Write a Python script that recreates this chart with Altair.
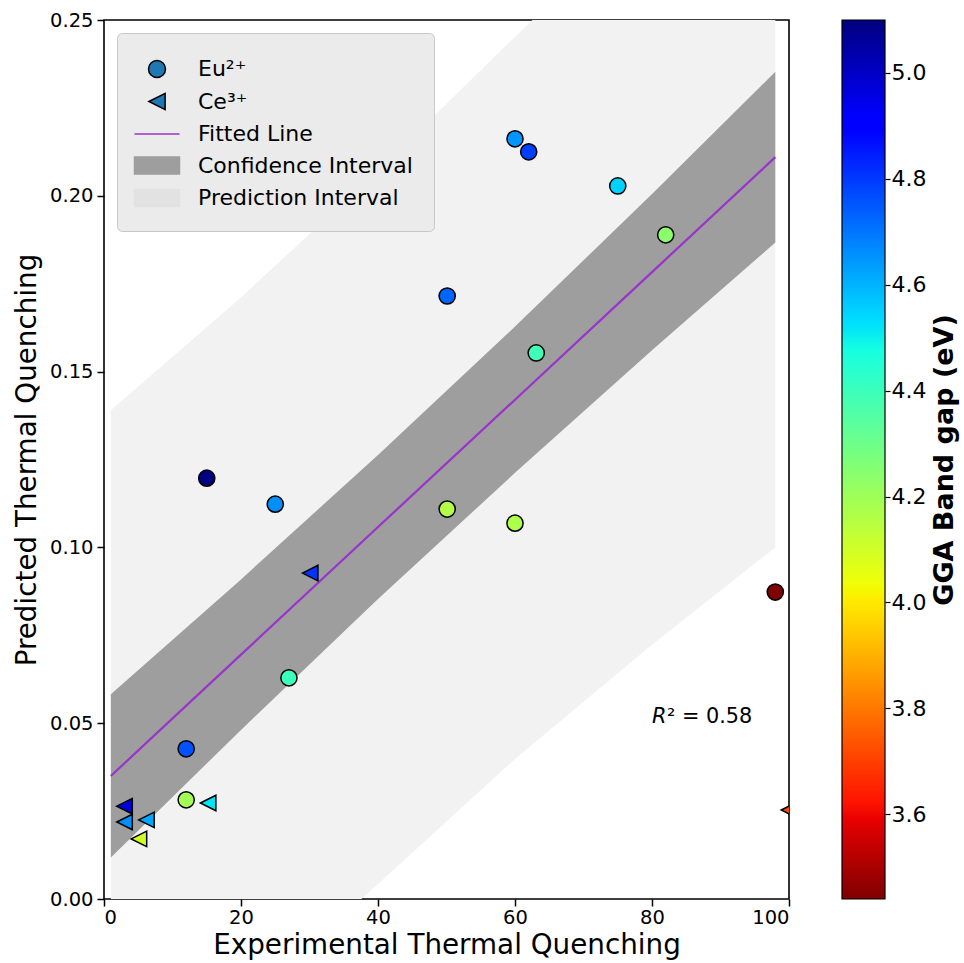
import altair as alt
import pandas as pd

# Eu2+ phosphors: experimental vs. predicted thermal quenching, GGA band gap (eV)
eu_exp = [60.0, 62.0, 75.0, 82.0, 50.1, 63.1, 15.0, 25.0, 50.1, 60.0, 27.0, 12.0, 12.0, 98.0]
eu_pred = [0.2162, 0.2125, 0.2028, 0.1889, 0.1715, 0.1553, 0.1197, 0.1123,
           0.1109, 0.1069, 0.0629, 0.0427, 0.0282, 0.0873]
eu_gap = [4.65, 4.79, 4.55, 4.24, 4.73, 4.39, 5.10, 4.66, 4.16, 4.17, 4.40, 4.76, 4.19, 3.44]

# Ce3+ phosphors
ce_exp = [30.1, 3.0, 3.0, 6.2, 5.1, 15.2, 100.0]
ce_pred = [0.0927, 0.0264, 0.0219, 0.0225, 0.0171, 0.0273, 0.0253]
ce_gap = [4.81, 4.97, 4.66, 4.62, 4.10, 4.52, 3.71]

# Regression line with confidence and prediction bands
band_x = [1, 20, 40, 60, 80, 98]
fit_y = [0.0350, 0.0695, 0.1058, 0.1420, 0.1783, 0.2110]
conf_lo = [0.0118, 0.0481, 0.0853, 0.1212, 0.1561, 0.1867]
conf_hi = [0.0582, 0.0909, 0.1263, 0.1628, 0.2005, 0.2353]
pred_lo = [-0.0650, -0.0310, 0.0043, 0.0398, 0.0723, 0.1000]
pred_hi = [0.1390, 0.1711, 0.2072, 0.2452, 0.2830, 0.3170]

r_squared = 0.58

x_ticks = [0, 20, 40, 60, 80, 100]
y_ticks = [0.0, 0.05, 0.10, 0.15, 0.20, 0.25]
gap_ticks = [3.6, 3.8, 4.0, 4.2, 4.4, 4.6, 4.8, 5.0]

FONT = "DejaVu Sans"
W, H = 685, 879


def jet(t):
    """matplotlib 'jet' colormap as a hex colour."""
    def seg(pts, t):
        for (x0, y0), (x1, y1) in zip(pts, pts[1:]):
            if x0 <= t <= x1:
                return y0 + (y1 - y0) * (t - x0) / (x1 - x0)
        return pts[-1][1]
    r = seg([(0, 0), (0.35, 0), (0.66, 1), (0.89, 1), (1, 0.5)], t)
    g = seg([(0, 0), (0.125, 0), (0.375, 1), (0.64, 1), (0.91, 0), (1, 0)], t)
    b = seg([(0, 0.5), (0.11, 1), (0.34, 1), (0.65, 0), (1, 0)], t)
    return "#%02x%02x%02x" % tuple(int(round(255 * c)) for c in (r, g, b))


jet_t = [0, 0.11, 0.125, 0.34, 0.35, 0.375, 0.64, 0.65, 0.66, 0.89, 0.91, 1.0]
gap_min = min(eu_gap + ce_gap)
gap_max = max(eu_gap + ce_gap)
# reversed jet: high band gap -> dark blue, low band gap -> dark red
cmap_domain = [gap_max - t * (gap_max - gap_min) for t in jet_t][::-1]
cmap_range = [jet(t) for t in jet_t][::-1]
gap_scale = alt.Scale(domain=cmap_domain, range=cmap_range, interpolate="rgb")

x_scale = alt.Scale(domain=[0, 100], nice=False, zero=False)
y_scale = alt.Scale(domain=[0, 0.25], nice=False, zero=False)

x_axis = alt.Axis(title="Experimental Thermal Quenching", values=x_ticks, format="d",
                  labelFontSize=19.5, titleFontSize=27.8, titleFontWeight="normal",
                  tickSize=7, tickWidth=1.5, labelPadding=2, titlePadding=5)
y_axis = alt.Axis(title="Predicted Thermal Quenching", values=y_ticks, format=".2f",
                  labelFontSize=19.5, titleFontSize=27.8, titleFontWeight="normal",
                  tickSize=7, tickWidth=1.5, labelPadding=4, titlePadding=8)

bands = pd.DataFrame({"x": band_x, "fit": fit_y, "conf_lo": conf_lo, "conf_hi": conf_hi,
                      "pred_lo": pred_lo, "pred_hi": pred_hi})
eu_df = pd.DataFrame({"exp": eu_exp, "pred": eu_pred, "gap": eu_gap})
ce_df = pd.DataFrame({"exp": ce_exp, "pred": ce_pred, "gap": ce_gap})

X = alt.X("x:Q", scale=x_scale, axis=x_axis)

pred_band = alt.Chart(bands).mark_area(color="#f2f2f2", opacity=1, clip=True).encode(
    x=X, y=alt.Y("pred_lo:Q", scale=y_scale, axis=y_axis), y2="pred_hi:Q")

conf_band = alt.Chart(bands).mark_area(color="#9e9e9e", opacity=1, clip=True).encode(
    x=X, y=alt.Y("conf_lo:Q", scale=y_scale, axis=y_axis), y2="conf_hi:Q")

fit_line = alt.Chart(bands).mark_line(color="#9933cc", strokeWidth=2.2, clip=True).encode(
    x=X, y=alt.Y("fit:Q", scale=y_scale, axis=y_axis))

CIRCLE = "circle"
TRI_LEFT = "M-1,0L1,-1L1,1Z"

eu_points = alt.Chart(eu_df).mark_point(
    shape=CIRCLE, filled=True, size=262, stroke="black", strokeWidth=1.5, opacity=1, clip=True
).encode(
    x=alt.X("exp:Q", scale=x_scale, axis=x_axis),
    y=alt.Y("pred:Q", scale=y_scale, axis=y_axis),
    fill=alt.Fill("gap:Q", scale=gap_scale, legend=None),
)

ce_points = alt.Chart(ce_df).mark_point(
    shape=TRI_LEFT, filled=True, size=240, stroke="black", strokeWidth=1.5, opacity=1, clip=True
).encode(
    x=alt.X("exp:Q", scale=x_scale, axis=x_axis),
    y=alt.Y("pred:Q", scale=y_scale, axis=y_axis),
    fill=alt.Fill("gap:Q", scale=gap_scale, legend=None),
)

r2_df = pd.DataFrame({"x": [80], "y": [0.05]})
r2_italic = alt.Chart(r2_df).mark_text(
    text="R", font=FONT, fontSize=20.8, fontStyle="italic", align="left",
    baseline="alphabetic", color="black"
).encode(x=alt.X("x:Q", scale=x_scale, axis=x_axis), y=alt.Y("y:Q", scale=y_scale, axis=y_axis))
r2_rest = alt.Chart(r2_df).mark_text(
    text=f"\u00b2 = {r_squared:.2f}", font=FONT, fontSize=20.8, align="left",
    baseline="alphabetic", color="black", dx=15
).encode(x=alt.X("x:Q", scale=x_scale, axis=x_axis), y=alt.Y("y:Q", scale=y_scale, axis=y_axis))

# Legend entries (drawn only through the legend); symbol paths are in units of
# half the symbol size, so the swatches can be wider than the nominal symbol box
entries = ["Eu\u00b2\u207a", "Ce\u00b3\u207a", "Fitted Line", "Confidence Interval", "Prediction Interval"]
R = 0.607
legend_shapes = [
    f"M{R},0A{R},{R} 0 1,1 {-R},0A{R},{R} 0 1,1 {R},0Z",
    "M-0.58,0L0.58,-0.58L0.58,0.58Z",
    "M-1.607,0L1.607,0",
    "M-1.607,-0.6L1.607,-0.6L1.607,0.6L-1.607,0.6Z",
    "M-1.607,-0.6L1.607,-0.6L1.607,0.6L-1.607,0.6Z",
]
legend_fills = ["#1f77b4", "#1f77b4", "#9933cc", "#9e9e9e", "#e2e2e2"]
legend_strokes = ["black", "black", "#9933cc", "#9e9e9e", "#e2e2e2"]
legend_widths = [1.5, 1.5, 2.2, 0, 0]

legend_df = pd.DataFrame({"entry": entries})
legend_layer = alt.Chart(legend_df).mark_point(filled=True, size=784, opacity=1).encode(
    color=alt.Color("entry:N", scale=alt.Scale(domain=entries, range=legend_fills), title=None),
    stroke=alt.Stroke("entry:N", scale=alt.Scale(domain=entries, range=legend_strokes), title=None),
    shape=alt.Shape("entry:N", scale=alt.Scale(domain=entries, range=legend_shapes), title=None),
    strokeWidth=alt.StrokeWidth("entry:N", scale=alt.Scale(domain=entries, range=legend_widths), title=None),
).transform_filter("false")

main = alt.layer(pred_band, conf_band, fit_line, eu_points, ce_points,
                 r2_italic, r2_rest, legend_layer)

# Colour bar for the band gap
jet_stops = [alt.GradientStop(offset=t, color=jet(t)) for t in jet_t]
cbar_df = pd.DataFrame({"lo": [gap_min], "hi": [gap_max]})
colorbar = alt.Chart(cbar_df).mark_rect(
    fill=alt.LinearGradient(gradient="linear", stops=jet_stops, x1=0, x2=0, y1=0, y2=1),
    stroke="black", strokeWidth=1.2
).encode(
    x=alt.value(738), x2=alt.value(781),
    y=alt.Y("lo:Q", scale=alt.Scale(domain=[gap_min, gap_max], nice=False, zero=False),
            axis=alt.Axis(orient="right", offset=96, values=gap_ticks, format=".1f",
                          title="GGA Band gap (eV)", titleFontWeight="bold", titleFontSize=27,
                          titleAngle=270, titleBaseline="top", titlePadding=6,
                          labelFontSize=22, tickSize=5, tickWidth=1.2, labelPadding=1)),
    y2="hi:Q",
)

chart = alt.layer(main, colorbar).resolve_scale(y="independent").properties(
    width=W, height=H,
    padding={"left": 104, "top": 20, "right": 964 - 104 - W, "bottom": 963 - 20 - H},
    autosize=alt.AutoSizeParams(type="none"),
    background="white",
).configure_view(
    stroke="black", strokeWidth=1.6
).configure_axis(
    labelFont=FONT, titleFont=FONT, labelColor="black", titleColor="black",
    tickColor="black", grid=False, domain=False,
).configure_legend(
    orient="top-left", offset=13, padding=21, fillColor="#ebebeb", strokeColor="#c8c8c8",
    cornerRadius=5, labelFont=FONT, labelFontSize=22, labelColor="black", labelLimit=500,
    rowPadding=5.5, symbolOffset=4, labelOffset=26, symbolSize=784,
)

chart.save("out.html", embed_options={"renderer": "svg", "actions": False})
